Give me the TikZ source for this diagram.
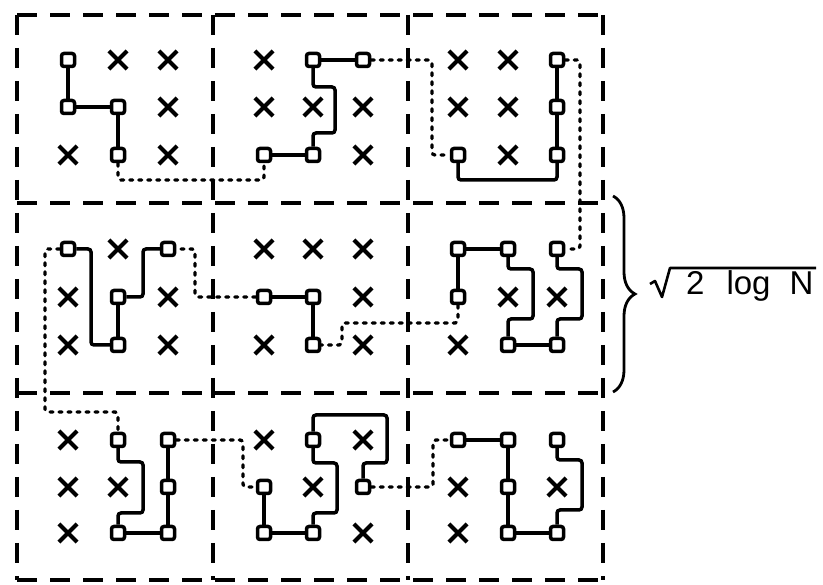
\documentclass[tikz,border=0pt]{standalone}
\usepackage{fontspec}
\setmainfont{Liberation Sans}
\usetikzlibrary{shapes.misc,decorations.pathreplacing}
\tikzset{
  sq/.style={draw, fill=white, rounded corners=2.5pt, minimum size=13pt, inner sep=0pt, line width=3.5pt},
  xm/.style={cross out, draw, minimum size=14pt, inner sep=0pt, line width=4.2pt},
  wire/.style={line width=3.5pt, rounded corners=3pt},
  chain/.style={line width=3.3pt, line cap=round, dash pattern=on 3pt off 6pt, rounded corners=3pt},
  cellline/.style={line width=4.2pt, dash pattern=on 20pt off 13pt},
  bracestyle/.style={line width=2.8pt, decorate, decoration={brace, amplitude=22pt}},
  lbl/.style={font=\fontsize{33}{33}\selectfont, inner sep=0pt}
}
\begin{document}
\begin{tikzpicture}[x=1pt, y=-1pt]
\useasboundingbox (0,0) rectangle (823,585);
% grid positions
\foreach \x [count=\i] in {68,118,168,264,313,363,458,508,557}
  \foreach \y [count=\j] in {60,107,155,249,297,345,440,487,533}
    \coordinate (c\i-\j) at (\x,\y);
% dashed cells
\foreach \yy in {15,203,393,580}
  \draw[cellline] (17,\yy) -- (603,\yy);
\foreach \xx in {17,213,408,603}
  \draw[cellline] (\xx,15) -- (\xx,580);
% squares
\foreach \p in {1-1,1-2,2-2,2-3, 5-1,6-1,4-3,5-3, 9-1,9-2,9-3,7-3,
  1-4,3-4,2-5,2-6, 4-5,5-5,5-6, 7-4,8-4,9-4,7-5,8-6,9-6,
  2-7,3-7,3-8,2-9,3-9, 5-7,4-8,6-8,4-9,5-9, 7-7,8-7,9-7,8-8,8-9,9-9}
  \node[sq] (s\p) at (c\p) {};
% crosses
\foreach \p in {2-1,3-1,3-2,1-3,3-3, 4-1,4-2,5-2,6-2,6-3, 7-1,8-1,7-2,8-2,8-3,
  2-4,1-5,3-5,1-6,3-6, 4-4,5-4,6-4,6-5,4-6,6-6, 8-5,9-5,7-6,
  1-7,1-8,2-8,1-9, 4-7,6-7,5-8,6-9, 7-8,9-8,7-9}
  \node[xm] (x\p) at (c\p) {};
% solid wires
\draw[wire] (s1-1) -- (s1-2) -- (s2-2) -- (s2-3);
\draw[wire] (s4-3) -- (s5-3);
\draw[wire] (s5-3) -- ++(0,-22) -| ++(22,-46) -| (s5-1);
\draw[wire] (s5-1) -- (s6-1);
\draw[wire] (s7-3) -- ++(0,25) -| (s9-3);
\draw[wire] (s9-3) -- (s9-2) -- (s9-1);
\draw[wire] (s3-4) -- ++(-25,0) |- (s2-5);
\draw[wire] (s2-5) -- (s2-6);
\draw[wire] (s2-6) -- ++(-27,0) |- (s1-4);
\draw[wire] (s4-5) -- (s5-5) -- (s5-6);
\draw[wire] (s7-4) -- (s8-4);
\draw[wire] (s7-4) -- (s7-5);
\draw[wire] (s8-4) -- ++(0,20) -| ++(25,50) -| (s8-6);
\draw[wire] (s8-6) -- (s9-6);
\draw[wire] (s9-4) -- ++(0,20) -| ++(25,50) -| (s9-6);
\draw[wire] (s2-7) -- ++(0,22) -| ++(25,51) -| (s2-9);
\draw[wire] (s2-9) -- (s3-9) -- (s3-8) -- (s3-7);
\draw[wire] (s4-8) -- (s4-9) -- (s5-9);
\draw[wire] (s5-9) -- ++(0,-20) -| ++(24,-50) -| (s5-7);
\draw[wire] (s5-7) -- ++(0,-25) -| ++(74,48) -| (s6-8);
\draw[wire] (s7-7) -- (s8-7) -- (s8-8) -- (s8-9) -- (s9-9);
\draw[wire] (s9-7) -- ++(0,20) -| ++(25,50) -| (s9-9);
% dotted chain between cells
\draw[chain] (s2-3) -- ++(0,25) -| (s4-3);
\draw[chain] (s6-1) -- ++(69,0) |- (s7-3);
\draw[chain] (s9-1) -- ++(23,0) |- (s9-4);
\draw[chain] (s7-5) -- ++(0,26) -| ++(-116,22) -- (s5-6);
\draw[chain] (s4-5) -- ++(-69,0) |- (s3-4);
\draw[chain] (s1-4) -- ++(-23,0) -- ++(0,163) -| (s2-7);
\draw[chain] (s3-7) -- ++(75,0) |- (s4-8);
\draw[chain] (s6-8) -- ++(70,0) |- (s7-7);
% brace and label
\coordinate (bt) at (613,196);
\coordinate (bb) at (613,392);
\draw[bracestyle] (bt) -- (bb);
\node[lbl, anchor=base west] (lab) at (686,295) {2\hspace{22pt}log\hspace{19pt}N};
\coordinate (r1) at (650,284);
\coordinate (r2) at (655,281);
\coordinate (r3) at (662,297);
\coordinate (r4) at (670,268);
\coordinate (r5) at (816,268);
\draw[line width=2.6pt, line join=round] (r1) -- (r2) -- (r3) -- (r4) -- (r5);
\end{tikzpicture}
\end{document}
